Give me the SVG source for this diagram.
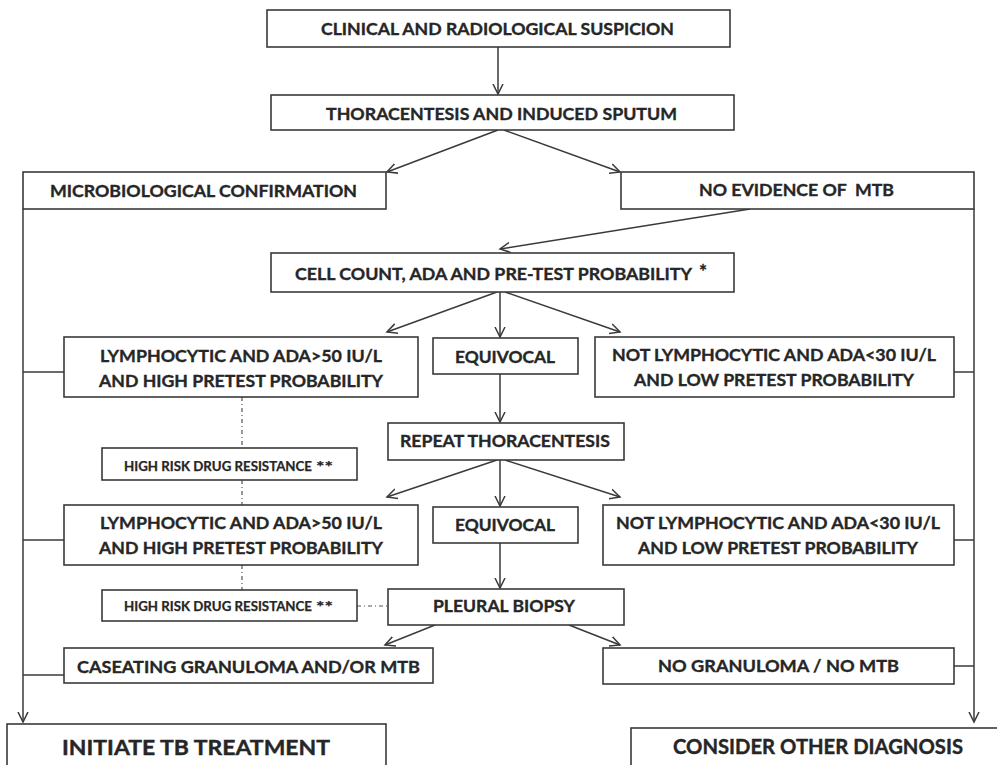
<svg xmlns="http://www.w3.org/2000/svg" width="997" height="765" viewBox="0 0 997 765">
<style>
.box{fill:#fff;stroke:#3a3a3a;stroke-width:1.6}
.t{font-family:Lato,"Open Sans","Liberation Sans",sans-serif;font-weight:bold;font-size:17px;fill:#262626;stroke:#262626;stroke-width:0.35}
.s{font-size:12.5px;stroke-width:0.25}
.b{font-size:21px;stroke-width:0.4}
.ln{fill:none;stroke:#3a3a3a;stroke-width:1.5}
.dot{fill:none;stroke:#555;stroke-width:1.2;stroke-dasharray:4 3 1 3}
</style>
<defs>
<marker id="ah" markerUnits="userSpaceOnUse" markerWidth="12" markerHeight="12" refX="10" refY="5" orient="auto" viewBox="0 0 12 10">
<path d="M0,0 L10,5 L0,10" fill="none" stroke="#3a3a3a" stroke-width="1.5"/>
</marker>
</defs>
<rect width="997" height="765" fill="#fff"/>
<g id="connectors">
<line class="ln" x1="498" y1="47" x2="498" y2="94" marker-end="url(#ah)"/>
<line class="ln" x1="498" y1="130" x2="387" y2="172" marker-end="url(#ah)"/>
<line class="ln" x1="504" y1="130" x2="620" y2="172" marker-end="url(#ah)"/>
<line class="ln" x1="750" y1="209" x2="500" y2="249" marker-end="url(#ah)"/>
<line class="ln" x1="497" y1="292" x2="387" y2="332" marker-end="url(#ah)"/>
<line class="ln" x1="500" y1="292" x2="500" y2="337" marker-end="url(#ah)"/>
<line class="ln" x1="505" y1="292" x2="620" y2="332" marker-end="url(#ah)"/>
<line class="ln" x1="500" y1="374" x2="500" y2="422" marker-end="url(#ah)"/>
<line class="ln" x1="497" y1="460" x2="387" y2="497" marker-end="url(#ah)"/>
<line class="ln" x1="500" y1="460" x2="500" y2="506" marker-end="url(#ah)"/>
<line class="ln" x1="505" y1="460" x2="620" y2="497" marker-end="url(#ah)"/>
<line class="ln" x1="500" y1="543" x2="500" y2="588" marker-end="url(#ah)"/>
<line class="ln" x1="435" y1="625" x2="385" y2="645" marker-end="url(#ah)"/>
<line class="ln" x1="569" y1="625" x2="620" y2="645" marker-end="url(#ah)"/>
<line class="ln" x1="23" y1="209" x2="23" y2="722" marker-end="url(#ah)"/>
<line class="ln" x1="23" y1="372" x2="64" y2="372"/>
<line class="ln" x1="23" y1="540" x2="64" y2="540"/>
<line class="ln" x1="23" y1="675" x2="64" y2="675"/>
<line class="ln" x1="974" y1="209" x2="974" y2="722" marker-end="url(#ah)"/>
<line class="ln" x1="954" y1="372" x2="974" y2="372"/>
<line class="ln" x1="954" y1="540" x2="974" y2="540"/>
<line class="ln" x1="954" y1="666" x2="974" y2="666"/>
<line class="dot" x1="242" y1="397" x2="242" y2="448"/>
<line class="dot" x1="242" y1="480" x2="242" y2="505"/>
<line class="dot" x1="242" y1="565" x2="242" y2="590"/>
<line class="dot" x1="357" y1="606" x2="388" y2="606"/>
</g>
<g id="n1"><rect class="box" x="267" y="10" width="463" height="37"/><text class="t" x="321" y="35" textLength="353" lengthAdjust="spacingAndGlyphs">CLINICAL AND RADIOLOGICAL SUSPICION</text></g>
<g id="n2"><rect class="box" x="271" y="95" width="463" height="35"/><text class="t" x="326" y="119.5" textLength="351" lengthAdjust="spacingAndGlyphs">THORACENTESIS AND INDUCED SPUTUM</text></g>
<g id="n3"><rect class="box" x="23" y="172" width="363" height="37"/><text class="t" x="50" y="197" textLength="307" lengthAdjust="spacingAndGlyphs">MICROBIOLOGICAL CONFIRMATION</text></g>
<g id="n4"><rect class="box" x="621" y="172" width="353" height="37"/><text class="t" x="699" y="195.5" textLength="195" lengthAdjust="spacingAndGlyphs" xml:space="preserve">NO EVIDENCE OF  MTB</text></g>
<g id="n5"><rect class="box" x="271" y="253" width="463" height="39"/><text class="t" x="295" y="280"><tspan textLength="397" lengthAdjust="spacingAndGlyphs">CELL COUNT, ADA AND PRE-TEST PROBABILITY</tspan><tspan x="699" y="278" style="font-size:19px">*</tspan></text></g>
<g id="n6"><rect class="box" x="64" y="337" width="354" height="60"/><text class="t" x="100" y="362" textLength="282" lengthAdjust="spacingAndGlyphs">LYMPHOCYTIC AND ADA&gt;50 IU/L</text><text class="t" x="99" y="387" textLength="284" lengthAdjust="spacingAndGlyphs">AND HIGH PRETEST PROBABILITY</text></g>
<g id="n7"><rect class="box" x="433" y="338" width="145" height="36"/><text class="t" x="455" y="363" textLength="100" lengthAdjust="spacingAndGlyphs">EQUIVOCAL</text></g>
<g id="n8"><rect class="box" x="595" y="337" width="359" height="60"/><text class="t" x="612" y="361" textLength="324" lengthAdjust="spacingAndGlyphs">NOT LYMPHOCYTIC AND ADA&lt;30 IU/L</text><text class="t" x="634" y="386" textLength="280" lengthAdjust="spacingAndGlyphs">AND LOW PRETEST PROBABILITY</text></g>
<g id="n9"><rect class="box" x="102" y="448" width="255" height="32"/><text class="t s" x="124" y="470.5"><tspan textLength="188" lengthAdjust="spacingAndGlyphs">HIGH RISK DRUG RESISTANCE</tspan><tspan x="316" y="472" style="font-size:15px" textLength="17" lengthAdjust="spacingAndGlyphs">**</tspan></text></g>
<g id="n10"><rect class="box" x="388" y="423" width="236" height="37"/><text class="t" x="400" y="447" textLength="210" lengthAdjust="spacingAndGlyphs">REPEAT THORACENTESIS</text></g>
<g id="n11"><rect class="box" x="64" y="505" width="354" height="60"/><text class="t" x="100" y="529" textLength="282" lengthAdjust="spacingAndGlyphs">LYMPHOCYTIC AND ADA&gt;50 IU/L</text><text class="t" x="99" y="554" textLength="284" lengthAdjust="spacingAndGlyphs">AND HIGH PRETEST PROBABILITY</text></g>
<g id="n12"><rect class="box" x="433" y="507" width="145" height="36"/><text class="t" x="455" y="531" textLength="100" lengthAdjust="spacingAndGlyphs">EQUIVOCAL</text></g>
<g id="n13"><rect class="box" x="603" y="505" width="351" height="60"/><text class="t" x="616" y="529" textLength="324" lengthAdjust="spacingAndGlyphs">NOT LYMPHOCYTIC AND ADA&lt;30 IU/L</text><text class="t" x="638" y="554" textLength="280" lengthAdjust="spacingAndGlyphs">AND LOW PRETEST PROBABILITY</text></g>
<g id="n14"><rect class="box" x="102" y="590" width="255" height="31"/><text class="t s" x="124" y="610.5"><tspan textLength="188" lengthAdjust="spacingAndGlyphs">HIGH RISK DRUG RESISTANCE</tspan><tspan x="316" y="612" style="font-size:15px" textLength="17" lengthAdjust="spacingAndGlyphs">**</tspan></text></g>
<g id="n15"><rect class="box" x="388" y="589" width="236" height="36"/><text class="t" x="433" y="612" textLength="142" lengthAdjust="spacingAndGlyphs">PLEURAL BIOPSY</text></g>
<g id="n16"><rect class="box" x="64" y="648" width="369" height="35"/><text class="t" x="77" y="672.5" textLength="343" lengthAdjust="spacingAndGlyphs">CASEATING GRANULOMA AND/OR MTB</text></g>
<g id="n17"><rect class="box" x="603" y="648" width="351" height="36"/><text class="t" x="658" y="672" textLength="241" lengthAdjust="spacingAndGlyphs">NO GRANULOMA / NO MTB</text></g>
<g id="n18"><rect class="box" x="7" y="724" width="379" height="60"/><text class="t b" x="62" y="755" textLength="268" lengthAdjust="spacingAndGlyphs">INITIATE TB TREATMENT</text></g>
<g id="n19"><rect class="box" x="631" y="728" width="380" height="60"/><text class="t b" x="673" y="754" textLength="290" lengthAdjust="spacingAndGlyphs">CONSIDER OTHER DIAGNOSIS</text></g>
</svg>
